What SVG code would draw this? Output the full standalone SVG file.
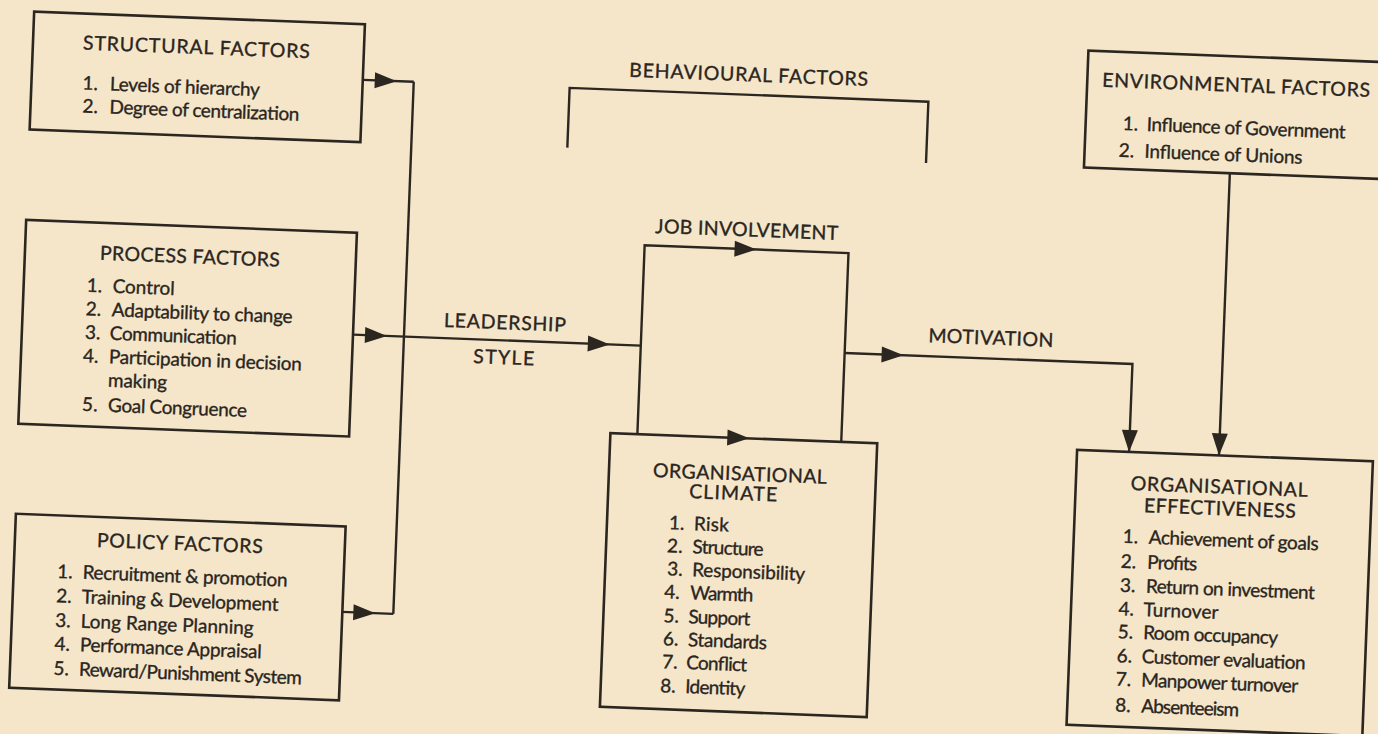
<svg xmlns="http://www.w3.org/2000/svg" xmlns:xlink="http://www.w3.org/1999/xlink" width="1378" height="734" viewBox="0 0 1378 734">
  <style>
    .box { fill: none; stroke: #2b2620; stroke-width: 2.6; }
    .ln { fill: none; stroke: #2b2620; stroke-width: 2.4; stroke-linejoin: miter; }
    .ah { fill: #2b2620; }
    text { font-family: Lato, "Noto Sans", "Liberation Sans", sans-serif; fill: #2a2520; stroke: #2a2520; stroke-width: 0.35; }
    .t { font-size: 19.5px; }
    .i { font-size: 19px; }
    .n { font-size: 19px; }
  </style>
  <defs>
    <!-- filled arrowhead, tip at the origin, pointing along +x -->
    <path id="ah" d="M0 0 L-22 -8 L-22 8 Z"/>
  </defs>

  <rect width="1378" height="734" fill="#f5e6ca"/>

  <!-- the whole printed figure sits slightly skewed on the page -->
  <g id="figure" transform="rotate(2.2 689 367)">

    <g id="connectors">
      <!-- collecting bus for the three factor boxes -->
      <path class="ln" d="M403 92.6 V625"/>
      <path class="ln" d="M352 92.6 H403"/>
      <path class="ln" d="M352 347.5 H640"/>
      <path class="ln" d="M352 625 H403"/>
      <!-- job involvement / climate loop -->
      <path class="ln" d="M640 436 V247 H844 V436"/>
      <!-- motivation to effectiveness -->
      <path class="ln" d="M844 347 H1132 V435"/>
      <!-- environment to effectiveness -->
      <path class="ln" d="M1222 152.6 V435"/>
      <!-- behavioural factors bracket -->
      <path class="ln" d="M559 152.5 V92.7 H918 V154"/>

      <use class="ah" xlink:href="#ah" transform="translate(386 92.6)"/>
      <use class="ah" xlink:href="#ah" transform="translate(386 347.5)"/>
      <use class="ah" xlink:href="#ah" transform="translate(385 625)"/>
      <use class="ah" xlink:href="#ah" transform="translate(609 347.5)"/>
      <use class="ah" xlink:href="#ah" transform="translate(752 247)"/>
      <use class="ah" xlink:href="#ah" transform="translate(752 436)"/>
      <use class="ah" xlink:href="#ah" transform="translate(903 347)"/>
      <use class="ah" xlink:href="#ah" transform="translate(1132 435) rotate(90)"/>
      <use class="ah" xlink:href="#ah" transform="translate(1222 435) rotate(90)"/>

      <text class="t" x="618" y="79.3" textLength="239" lengthAdjust="spacing">BEHAVIOURAL FACTORS</text>
      <text class="t" x="650" y="234.3" textLength="183" lengthAdjust="spacing">JOB INVOLVEMENT</text>
      <text class="t" x="442.5" y="336.4" textLength="122" lengthAdjust="spacing">LEADERSHIP</text>
      <text class="t" x="473" y="371.3" textLength="61" lengthAdjust="spacing">STYLE</text>
      <text class="t" x="927" y="333" textLength="125" lengthAdjust="spacing">MOTIVATION</text>
    </g>

    <g id="structural">
      <rect class="box" x="21" y="37" width="331" height="118"/>
      <text class="t" x="71" y="73" textLength="227" lengthAdjust="spacing">STRUCTURAL FACTORS</text>
      <text class="n" x="72" y="113">1.</text>
      <text class="i" x="99.5" y="113" textLength="150" lengthAdjust="spacing">Levels of hierarchy</text>
      <text class="n" x="73" y="136">2.</text>
      <text class="i" x="100" y="136" textLength="190" lengthAdjust="spacing">Degree of centralization</text>
    </g>

    <g id="process">
      <rect class="box" x="21" y="245.5" width="331" height="204"/>
      <text class="t" x="96" y="282.5" textLength="180" lengthAdjust="spacing">PROCESS FACTORS</text>
      <text class="n" x="84" y="315">1.</text>
      <text class="i" x="110" y="315" textLength="62" lengthAdjust="spacing">Control</text>
      <text class="n" x="84" y="338.5">2.</text>
      <text class="i" x="110" y="338.5" textLength="181" lengthAdjust="spacing">Adaptability to change</text>
      <text class="n" x="84" y="362">3.</text>
      <text class="i" x="109" y="362" textLength="127" lengthAdjust="spacing">Communication</text>
      <text class="n" x="83" y="385.5">4.</text>
      <text class="i" x="109" y="385.5" textLength="193" lengthAdjust="spacing">Participation in decision</text>
      <text class="i" x="109" y="409" textLength="59" lengthAdjust="spacing">making</text>
      <text class="n" x="84" y="434">5.</text>
      <text class="i" x="110" y="434" textLength="139" lengthAdjust="spacing">Goal Congruence</text>
    </g>

    <g id="policy">
      <rect class="box" x="22" y="539.5" width="330" height="174"/>
      <text class="t" x="104" y="569.5" textLength="166" lengthAdjust="spacing">POLICY FACTORS</text>
      <text class="n" x="65.5" y="602">1.</text>
      <text class="i" x="91" y="602" textLength="205" lengthAdjust="spacing">Recruitment &amp; promotion</text>
      <text class="n" x="65.5" y="626.5">2.</text>
      <text class="i" x="91" y="626.5" textLength="197" lengthAdjust="spacing">Training &amp; Development</text>
      <text class="n" x="65.5" y="651">3.</text>
      <text class="i" x="91" y="651" textLength="173" lengthAdjust="spacing">Long Range Planning</text>
      <text class="n" x="65.5" y="674.5">4.</text>
      <text class="i" x="91" y="674.5" textLength="182" lengthAdjust="spacing">Performance Appraisal</text>
      <text class="n" x="65.5" y="699">5.</text>
      <text class="i" x="91" y="699" textLength="223" lengthAdjust="spacing">Reward/Punishment System</text>
    </g>

    <g id="environmental">
      <rect class="box" x="1076" y="35.6" width="320" height="117"/>
      <text class="t" x="1091" y="71" textLength="268" lengthAdjust="spacing">ENVIRONMENTAL FACTORS</text>
      <text class="n" x="1113" y="113.5">1.</text>
      <text class="i" x="1137" y="113.5" textLength="199" lengthAdjust="spacing">Influence of Government</text>
      <text class="n" x="1110" y="140.5">2.</text>
      <text class="i" x="1136" y="140.5" textLength="158" lengthAdjust="spacing">Influence of Unions</text>
    </g>

    <g id="climate">
      <rect class="box" x="613" y="436" width="267" height="274"/>
      <text class="t" x="657" y="478.4" textLength="174" lengthAdjust="spacing">ORGANISATIONAL</text>
      <text class="t" x="694" y="498" textLength="88" lengthAdjust="spacing">CLIMATE</text>
      <text class="n" x="675" y="530">1.</text>
      <text class="i" x="700" y="530" textLength="35" lengthAdjust="spacing">Risk</text>
      <text class="n" x="674" y="553">2.</text>
      <text class="i" x="699.5" y="553" textLength="71" lengthAdjust="spacing">Structure</text>
      <text class="n" x="675" y="576">3.</text>
      <text class="i" x="700" y="576" textLength="113" lengthAdjust="spacing">Responsibility</text>
      <text class="n" x="673" y="599">4.</text>
      <text class="i" x="699" y="599" textLength="63" lengthAdjust="spacing">Warmth</text>
      <text class="n" x="673" y="623">5.</text>
      <text class="i" x="698" y="623" textLength="62" lengthAdjust="spacing">Support</text>
      <text class="n" x="673.5" y="646">6.</text>
      <text class="i" x="698.5" y="646" textLength="79" lengthAdjust="spacing">Standards</text>
      <text class="n" x="673.5" y="669">7.</text>
      <text class="i" x="697.5" y="669" textLength="61" lengthAdjust="spacing">Conflict</text>
      <text class="n" x="672.5" y="693">8.</text>
      <text class="i" x="697.5" y="693" textLength="60" lengthAdjust="spacing">Identity</text>
    </g>

    <g id="effectiveness">
      <rect class="box" x="1080" y="435" width="296" height="275"/>
      <text class="t" x="1135" y="473" textLength="177" lengthAdjust="spacing">ORGANISATIONAL</text>
      <text class="t" x="1149" y="494.6" textLength="152" lengthAdjust="spacing">EFFECTIVENESS</text>
      <text class="n" x="1129" y="526">1.</text>
      <text class="i" x="1155" y="526" textLength="170" lengthAdjust="spacing">Achievement of goals</text>
      <text class="n" x="1128" y="551">2.</text>
      <text class="i" x="1154.5" y="551" textLength="50" lengthAdjust="spacing">Profits</text>
      <text class="n" x="1128" y="575">3.</text>
      <text class="i" x="1154" y="575" textLength="169" lengthAdjust="spacing">Return on investment</text>
      <text class="n" x="1127.5" y="598.5">4.</text>
      <text class="i" x="1152.5" y="598.5" textLength="75" lengthAdjust="spacing">Turnover</text>
      <text class="n" x="1127.5" y="621.5">5.</text>
      <text class="i" x="1153" y="621.5" textLength="135" lengthAdjust="spacing">Room occupancy</text>
      <text class="n" x="1127.5" y="645.5">6.</text>
      <text class="i" x="1152.5" y="645.5" textLength="164" lengthAdjust="spacing">Customer evaluation</text>
      <text class="n" x="1127.5" y="669">7.</text>
      <text class="i" x="1153" y="669" textLength="157" lengthAdjust="spacing">Manpower turnover</text>
      <text class="n" x="1128" y="695">8.</text>
      <text class="i" x="1154" y="695" textLength="98" lengthAdjust="spacing">Absenteeism</text>
    </g>
  </g>
</svg>
